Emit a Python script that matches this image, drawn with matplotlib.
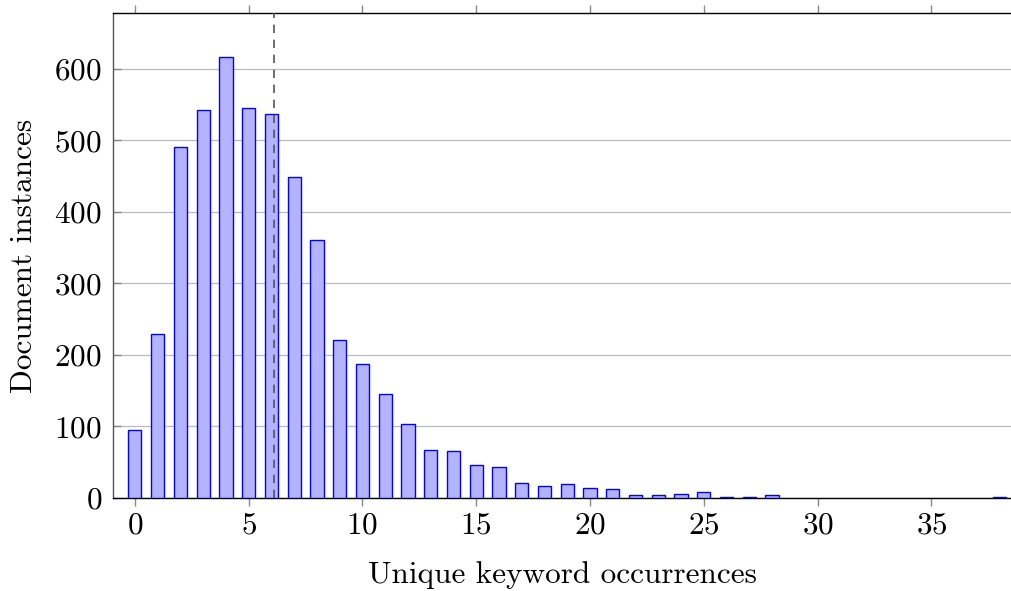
import matplotlib
matplotlib.use('Agg')
import matplotlib.pyplot as plt

# Unique keyword occurrences per document
occurrences = list(range(29)) + [38]
counts = [95, 229, 490, 543, 617, 545, 537, 449, 361, 221,
          187, 145, 103, 67, 66, 46, 43, 21, 17, 20,
          14, 13, 4, 4, 6, 9, 2, 1, 4, 1]
mean_value = 6.1

plt.rcParams['font.family'] = 'serif'
plt.rcParams['font.serif'] = ['cmr10']
plt.rcParams['axes.formatter.use_mathtext'] = True
plt.rcParams['font.size'] = 22.5

fig = plt.figure(figsize=(10.12, 5.91), dpi=100)
ax = fig.add_axes([0.1117, 0.1574, 0.8873, 0.8206])

ax.bar(occurrences, counts, width=0.58, color=(0.7, 0.7, 1.0),
       edgecolor='blue', linewidth=1.0, zorder=3)
ax.axvline(mean_value, color='#555555', linestyle=(0, (5, 4)), linewidth=1.2, zorder=4)

ax.set_xlim(-0.96, 38.5)
ax.set_ylim(0, 678)
ax.set_xticks(range(0, 40, 5))
ax.set_yticks(range(0, 700, 100))

ax.yaxis.grid(True, color='#bbbbbb', linewidth=0.9, zorder=0)
ax.tick_params(axis='x', direction='out', top=True, bottom=True, length=6,
               color='#888888', width=1.0, pad=4)
ax.tick_params(axis='y', direction='in', left=True, right=False, length=6,
               color='#888888', width=1.0, pad=8)
for s in ax.spines.values():
    s.set_linewidth(1.0)
ax.spines['right'].set_visible(False)
ax.spines['left'].set_color('#555555')

ax.set_xlabel('Unique keyword occurrences', labelpad=15)
ax.set_ylabel('Document instances', labelpad=12)

fig.savefig('out.png', dpi=100)
